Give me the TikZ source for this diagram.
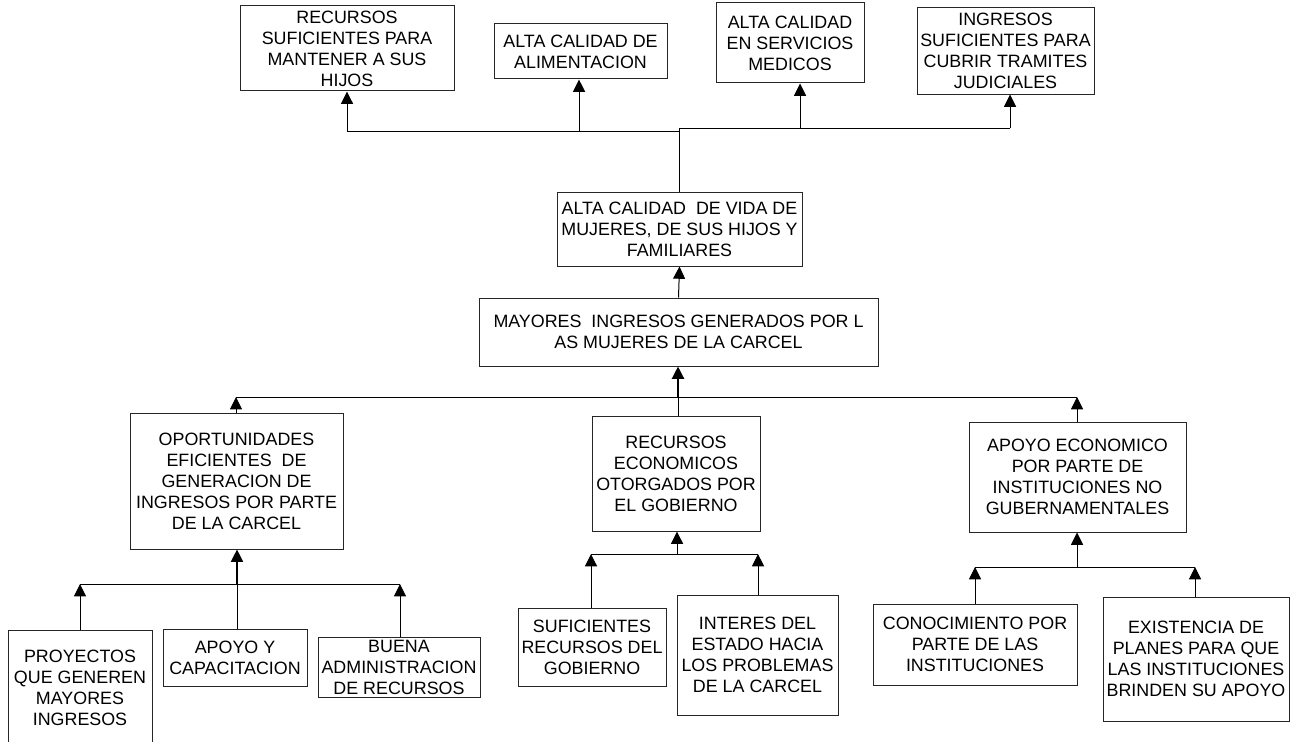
\documentclass[tikz,border=0pt]{standalone}
\usepackage{fontspec}
\setmainfont{Liberation Sans}
\usetikzlibrary{arrows.meta}
\newcommand\pbox[6]{\node[box,minimum width={(#4-#2)*0.75pt},minimum height={(#5-#3)*0.75pt}] (#1) at ({(#2+#4)/2},{(#3+#5)/2}) {#6};}
\begin{document}
\begin{tikzpicture}[x=0.75pt,y=-0.75pt,
  box/.style={draw=black!85, line width=0.75pt, inner sep=0pt, align=center, font=\fontsize{13.4}{15.8}\selectfont},
  ln/.style={draw=black, line width=0.75pt},
  arr/.style={ln, -{Triangle[length=9.2pt,width=9pt]}}]
\useasboundingbox (0,0) rectangle (1295,742);
% top row
\pbox{A}{240}{6}{454}{91}{RECURSOS\\SUFICIENTES PARA\\MANTENER A SUS\\HIJOS}
\pbox{B}{494}{24}{667}{79}{ALTA CALIDAD DE\\ALIMENTACION}
\pbox{C}{716}{3}{864}{83}{ALTA CALIDAD\\EN SERVICIOS\\MEDICOS}
\pbox{D}{917}{8}{1094}{94}{INGRESOS\\SUFICIENTES PARA\\CUBRIR TRAMITES\\JUDICIALES}
% middle
\pbox{E}{557}{192}{802}{266}{ALTA CALIDAD\ \ DE VIDA DE\\MUJERES, DE SUS HIJOS Y\\FAMILIARES}
\pbox{F}{479}{298}{878}{366}{MAYORES\ \ INGRESOS GENERADOS POR L\\AS MUJERES DE LA CARCEL}
% second level
\pbox{G}{130}{413}{343}{549}{OPORTUNIDADES\\EFICIENTES\ \ DE\\GENERACION DE\\INGRESOS POR PARTE\\DE LA CARCEL}
\pbox{H}{592}{416}{760}{531}{RECURSOS\\ECONOMICOS\\OTORGADOS POR\\EL GOBIERNO}
\pbox{I}{969}{422}{1186}{532}{APOYO ECONOMICO\\POR PARTE DE\\INSTITUCIONES NO\\GUBERNAMENTALES}
% bottom
\pbox{P}{8}{630}{152}{746}{PROYECTOS\\QUE GENEREN\\MAYORES\\INGRESOS}
\pbox{Q}{163}{629}{307}{686}{APOYO Y\\CAPACITACION}
\pbox{R}{318}{637}{480}{697}{BUENA\\ADMINISTRACION\\DE RECURSOS}
\pbox{S}{518}{608}{666}{686}{SUFICIENTES\\RECURSOS DEL\\GOBIERNO}
\pbox{T}{677}{595}{838}{715}{INTERES DEL\\ESTADO HACIA\\LOS PROBLEMAS\\DE LA CARCEL}
\pbox{U}{873}{604}{1077}{685}{CONOCIMIENTO POR\\PARTE DE LAS\\INSTITUCIONES}
\pbox{V}{1103}{597}{1289}{721}{EXISTENCIA DE\\PLANES PARA QUE\\LAS INSTITUCIONES\\BRINDEN SU APOYO}
% top connectors
\coordinate (t1) at (347,131);
\coordinate (t2) at (579,131);
\coordinate (t3) at (680,131);
\coordinate (t4) at (680,128);
\coordinate (t5) at (800,128);
\coordinate (t6) at (1010,128);
\draw[ln] (t1) -- (t3);
\draw[ln] (t4) -- (t6);
\draw[arr] (t1) -- (t1 |- A.south);
\draw[arr] (t2) -- (t2 |- B.south);
\draw[arr] (t5) -- (t5 |- C.south);
\draw[arr] (t6) -- (t6 |- D.south);
\draw[ln] (E.north) -- (E.north |- t4);
\draw[arr] (F.north) -- (E.south);
% second bus
\coordinate (m1) at (236,397);
\coordinate (m2) at (678,397);
\coordinate (m3) at (1077,397);
\draw[ln] (m1) -- (m3);
\draw[arr, line width=1.5pt] (m2) -- (m2 |- F.south);
\draw[ln] (m2 |- H.north) -- (m2);
\draw[arr] (m1 |- G.north) -- (m1);
\draw[arr] (m3 |- I.north) -- (m3);
% group G
\coordinate (g1) at (80,584);
\coordinate (g2) at (237,584);
\coordinate (g3) at (400,584);
\draw[ln] (g1) -- (g3);
\draw[arr, line width=1.1pt] (g2) -- (g2 |- G.south);
\draw[ln] (g2 |- Q.north) -- (g2);
\draw[arr] (g1 |- P.north) -- (g1);
\draw[arr] (g3 |- R.north) -- (g3);
% group H
\coordinate (h1) at (591,554);
\coordinate (h2) at (677,554);
\coordinate (h3) at (758,554);
\draw[ln] (h1) -- (h3);
\draw[arr] (h2) -- (h2 |- H.south);
\draw[arr] (h1 |- S.north) -- (h1);
\draw[arr] (h3 |- T.north) -- (h3);
% group I
\coordinate (i1) at (975,567);
\coordinate (i2) at (1077,567);
\coordinate (i3) at (1195,567);
\draw[ln] (i1) -- (i3);
\draw[arr] (i2) -- (i2 |- I.south);
\draw[arr] (i1 |- U.north) -- (i1);
\draw[arr] (i3 |- V.north) -- (i3);
\end{tikzpicture}
\end{document}
